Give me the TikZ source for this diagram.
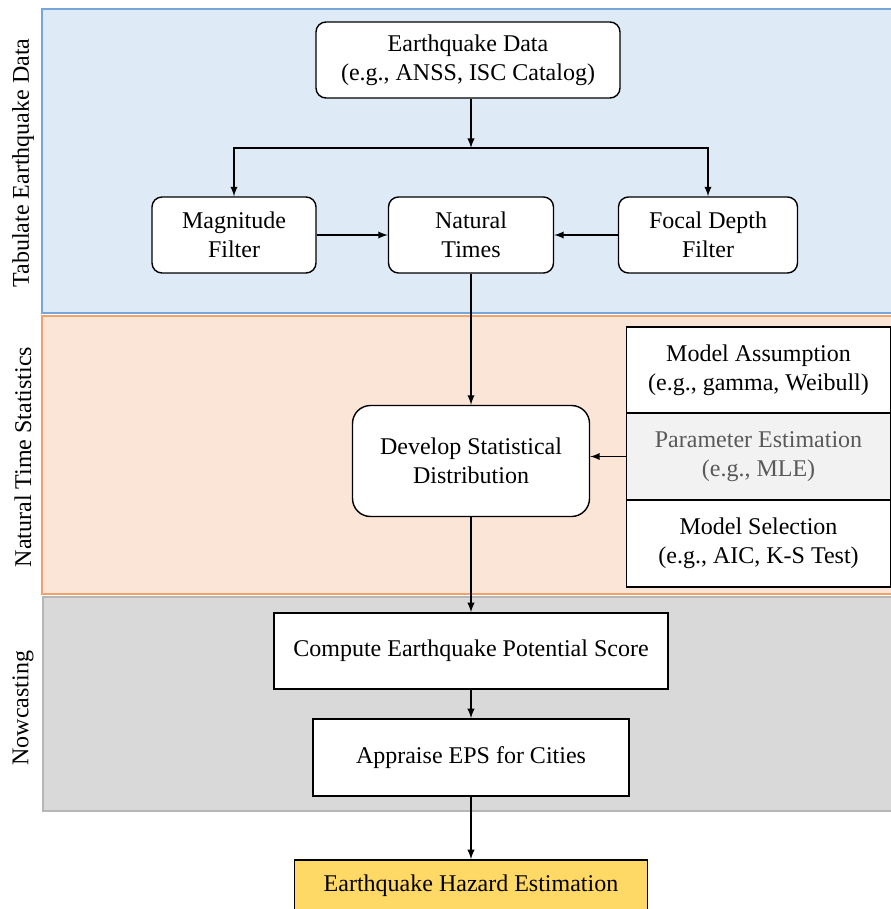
\documentclass[tikz,border=0pt]{standalone}
\usepackage{fontspec}
\setmainfont{Liberation Serif}
\usepackage{tikz}
\usetikzlibrary{positioning}
\usetikzlibrary{arrows}
\definecolor{tabblue}{RGB}{222,235,247}
\definecolor{tabblueline}{RGB}{116,166,218}
\definecolor{ntsorange}{RGB}{251,229,214}
\definecolor{ntsorangeline}{RGB}{242,160,108}
\definecolor{nowgrey}{RGB}{217,217,217}
\definecolor{nowgreyline}{RGB}{182,182,182}
\definecolor{paramgrey}{RGB}{242,242,242}
\definecolor{paramtext}{RGB}{89,89,89}
\definecolor{hazardyellow}{RGB}{255,217,102}

\begin{document}
\begin{tikzpicture}[x=0.5pt, y=-0.5pt,
    font=\fontsize{12}{14.5}\selectfont,
    band/.style={line width=0.8pt},
    roundbox/.style={draw, fill=white, rounded corners=5pt, line width=0.7pt,
                     align=center, inner sep=0pt, minimum height=38pt},
    squarebox/.style={draw, fill=white, line width=0.8pt, align=center, inner sep=0pt},
    sidelabel/.style={rotate=90},
    flow/.style={-latex, line width=0.65pt}]

\useasboundingbox (0,0) rectangle (890,909);

%---------------------------------------
% Background bands
%---------------------------------------
\filldraw[band, fill=tabblue, draw=tabblueline]   (42,9)   rectangle (892,313);
\filldraw[band, fill=ntsorange, draw=ntsorangeline] (42,316) rectangle (892,594);
\filldraw[band, fill=nowgrey, draw=nowgreyline]   (43,597) rectangle (892,811);

\node[sidelabel] (tablabel) at (23,163) {Tabulate Earthquake Data};
\node[sidelabel] (ntslabel) at (23,457) {Natural Time Statistics};
\node[sidelabel] (nowlabel) at (23,708) {Nowcasting};

%---------------------------------------
% Tabulate earthquake data
%---------------------------------------
\node[roundbox, minimum width=152pt] (eqdata) at (468,60)
    {Earthquake Data\\(e.g., ANSS, ISC Catalog)};
\node[roundbox, minimum width=82pt] (magfilter) at (234,235) {Magnitude\\Filter};
\node[roundbox, minimum width=82.5pt] (natural) at (471,235) {Natural\\Times};
\node[roundbox, minimum width=89.5pt] (focal) at (708,235) {Focal Depth\\Filter};

\coordinate (split) at (471,148);
\draw[flow] (eqdata.south -| split) -- (split);
\draw[flow] (split) -| (magfilter);
\draw[flow] (split) -| (focal);
\draw[flow] (magfilter) -- (natural);
\draw[flow] (focal) -- (natural);

%---------------------------------------
% Natural time statistics
%---------------------------------------
\node[roundbox, minimum width=118.5pt, minimum height=55.5pt, rounded corners=9pt]
    (develop) at (471,461) {Develop Statistical\\Distribution};

\node[squarebox, minimum width=132pt, minimum height=43pt] (assume) at (758.5,370)
    {Model Assumption\\(e.g., gamma, Weibull)};
\node[squarebox, fill=paramgrey, text=paramtext, minimum width=132pt, minimum height=43.5pt]
    (param) at (758.5,456.5) {Parameter Estimation\\(e.g., MLE)};
\node[squarebox, minimum width=132pt, minimum height=43.5pt] (select) at (758.5,543.5)
    {Model Selection\\(e.g., AIC, K-S Test)};

\draw[flow] (natural) -- (develop);
\draw[flow] (param.west) -- (param.west -| develop.east);

%---------------------------------------
% Nowcasting
%---------------------------------------
\node[squarebox, minimum width=197pt, minimum height=38pt] (compute) at (471,651)
    {Compute Earthquake Potential Score};
\node[squarebox, minimum width=158pt, minimum height=38.5pt] (appraise) at (471,757.5)
    {Appraise EPS for Cities};
\node[squarebox, fill=hazardyellow, minimum width=176.5pt, minimum height=26pt]
    (hazard) at (471,886) {Earthquake Hazard Estimation};

\draw[flow] (develop) -- (compute);
\draw[flow] (compute) -- (appraise);
\draw[flow] (appraise) -- (hazard);

\end{tikzpicture}
\end{document}
